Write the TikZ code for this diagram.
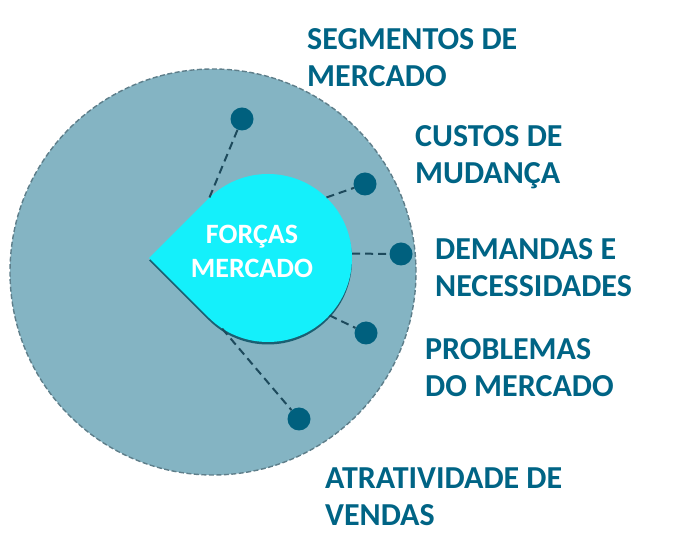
\documentclass[tikz,border=0pt]{standalone}
\usepackage{fontspec}
\setmainfont{Carlito}
\definecolor{fundo}{HTML}{84B4C3}
\definecolor{contorno}{HTML}{5E7E8A}
\definecolor{gotaciano}{HTML}{14F0FB}
\definecolor{sombra}{HTML}{1B5F72}
\definecolor{pontoazul}{HTML}{00607E}
\definecolor{linhaazul}{HTML}{1D4A5C}
\definecolor{textoazul}{HTML}{006485}
\begin{document}
\begin{tikzpicture}[x=1pt,y=1pt]
\tikzstyle{rotulo} = [anchor=north west, inner sep=0pt, align=left, text=textoazul, font=\fontsize{32}{37}\selectfont\bfseries]
\tikzstyle{ponto} = [circle, fill=pontoazul, minimum size=23pt, inner sep=0pt]
\tikzstyle{ligacao} = [dash pattern=on 8pt off 5pt, line width=2pt, color=linhaazul]
\useasboundingbox (0,0) rectangle (682,543);
%circulo grande
\filldraw[fill=fundo, draw=contorno, line width=1.4pt, dash pattern=on 5pt off 2.5pt] (213,271) circle (203);
%gota e sombra
\fill[sombra, shift={(0,-2.5)}] (149.2,285) -- (208.6,344.4) arc[start angle=135, end angle=-135, radius=84] -- cycle;
\fill[gotaciano] (149.2,285) -- (208.6,344.4) arc[start angle=135, end angle=-135, radius=84] -- cycle;
\node[circle, minimum size=168pt, inner sep=0pt] (gota) at (268,285) {};
\node[text=white, align=center, inner sep=0pt, font=\fontsize{28}{34}\selectfont\bfseries] (forcas) at (252,291.5) {FORÇAS\\MERCADO};
%pontos
\node[ponto] (d1) at (242,424) {};
\node[ponto] (d2) at (365,359) {};
\node[ponto] (d3) at (401,289) {};
\node[ponto] (d4) at (366,210) {};
\node[ponto] (d5) at (299,124) {};
\draw[ligacao] (gota.134) -- (d1);
\draw[ligacao] (gota.46) -- (d2);
\draw[ligacao] (gota.3) -- (d3);
\draw[ligacao] (gota.-43) -- (d4);
\draw[ligacao] (gota.-123) -- (d5);
%rotulos
\node[rotulo] (segmentos) at (307,515) {SEGMENTOS DE\\MERCADO};
\node[rotulo] (custos) at (415,418) {CUSTOS DE\\MUDANÇA};
\node[rotulo] (demandas) at (435,305) {DEMANDAS E\\NECESSIDADES};
\node[rotulo] (problemas) at (425,205) {PROBLEMAS\\DO MERCADO};
\node[rotulo] (atratividade) at (325,75) {ATRATIVIDADE DE\\VENDAS};
\end{tikzpicture}
\end{document}
